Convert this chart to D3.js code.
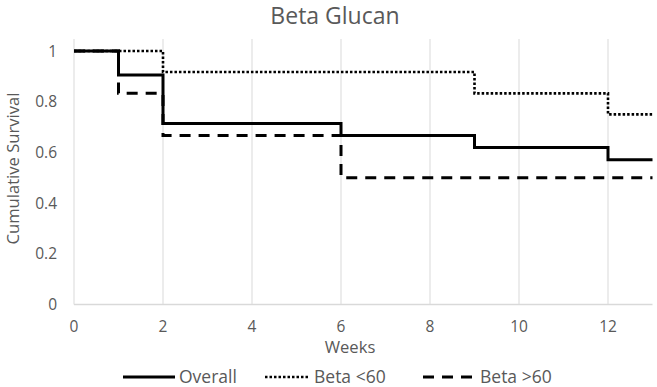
<!DOCTYPE html>
<html>
<head>
<meta charset="utf-8">
<script src="https://cdn.jsdelivr.net/npm/d3@7"></script>
<style>
  body{margin:0;background:#fff;}
  svg text{font-family:"Open Sans",sans-serif;fill:#595959;}
</style>
</head>
<body>
<svg id="chart" width="657" height="387"></svg>
<script>
// step data: time (weeks) -> cumulative survival
const overallT=[0,1,2,6,9,12,13];
const overallS=[1,0.905,0.714,0.667,0.619,0.571,0.571];
const lowT=[0,2,9,12,13];
const lowS=[1,0.917,0.833,0.75,0.75];
const highT=[0,1,2,6,13];
const highS=[1,0.833,0.667,0.5,0.5];

const xTicks=[0,2,4,6,8,10,12];
const yTicks=[0,0.2,0.4,0.6,0.8,1];
const seriesNames=["Overall","Beta <60","Beta >60"];

const svg=d3.select("#chart");
const mLeft=74,mRight=652.5,mTop=39,mBottom=304.5;

const x=d3.scaleLinear().domain([0,13]).range([mLeft,mRight]);
const y=d3.scaleLinear().domain([0,1]).range([mBottom,51]);

// vertical gridlines
svg.append("g").selectAll("line").data(xTicks).join("line")
  .attr("x1",d=>x(d)).attr("x2",d=>x(d))
  .attr("y1",mTop).attr("y2",mBottom)
  .attr("stroke","#d9d9d9").attr("stroke-width",1);

// bottom axis line
svg.append("line")
  .attr("x1",mLeft).attr("x2",mRight).attr("y1",mBottom).attr("y2",mBottom)
  .attr("stroke","#d9d9d9").attr("stroke-width",1.5);

// tick labels
svg.append("g").selectAll("text").data(xTicks).join("text")
  .attr("x",d=>x(d)).attr("y",332)
  .attr("text-anchor","middle").attr("font-size",15.5)
  .text(d=>d);

svg.append("g").selectAll("text").data(yTicks).join("text")
  .attr("x",57).attr("y",d=>y(d)).attr("dy","0.36em")
  .attr("text-anchor","end").attr("font-size",15.5)
  .text(d=>d3.format("")(d));

// titles
svg.append("text").attr("x",335).attr("y",24)
  .attr("text-anchor","middle").attr("font-size",23).text("Beta Glucan");
svg.append("text").attr("x",350).attr("y",353)
  .attr("text-anchor","middle").attr("font-size",16.6).text("Weeks");
svg.append("text")
  .attr("transform","translate(19,168.5) rotate(-90)")
  .attr("text-anchor","middle").attr("font-size",16.6).text("Cumulative Survival");

// survival curves
const styles=[
  {dash:null},
  {dash:"2.5 2"},
  {dash:"11 8"}
];
const data=[
  overallT.map((t,i)=>[t,overallS[i]]),
  lowT.map((t,i)=>[t,lowS[i]]),
  highT.map((t,i)=>[t,highS[i]])
];
const line=d3.line().x(d=>x(d[0])).y(d=>y(d[1])).curve(d3.curveStepAfter);

svg.append("g").selectAll("path").data(data).join("path")
  .attr("d",line)
  .attr("fill","none")
  .attr("stroke","#000")
  .attr("stroke-width",(d,i)=>i==1?2.6:3)
  .attr("stroke-dasharray",(d,i)=>styles[i].dash);

// legend
const leg=[{x1:123,x2:175,tx:179},{x1:265,x2:310,tx:314},{x1:423,x2:477,tx:480}];
const lg=svg.append("g");
leg.forEach((l,i)=>{
  lg.append("line")
    .attr("x1",l.x1).attr("x2",l.x2).attr("y1",377).attr("y2",377)
    .attr("stroke","#000").attr("stroke-width",i==1?2.6:3)
    .attr("stroke-dasharray",styles[i].dash);
  lg.append("text").attr("x",l.tx).attr("y",383)
    .attr("font-size",17.5).text(seriesNames[i]);
});
</script>
</body>
</html>
